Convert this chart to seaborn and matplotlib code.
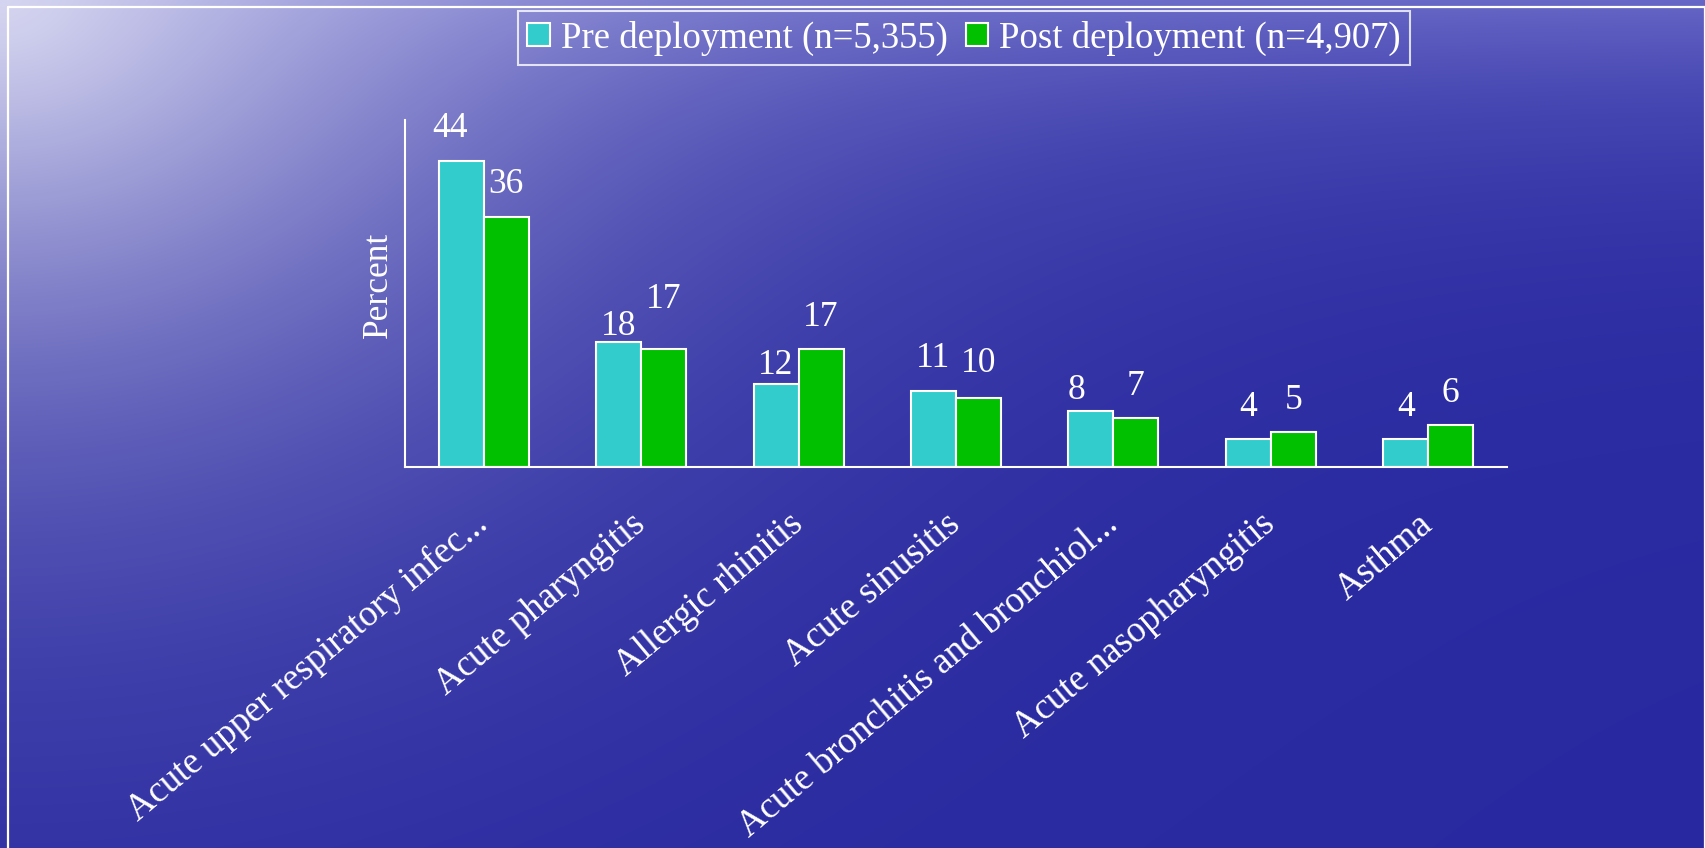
import numpy as np
import pandas as pd
import matplotlib
matplotlib.use("Agg")
import matplotlib.pyplot as plt
from matplotlib.lines import Line2D
import seaborn as sns

# ---------------- data ----------------
categories = [
    "Acute upper respiratory infec...",
    "Acute pharyngitis",
    "Allergic rhinitis",
    "Acute sinusitis",
    "Acute bronchitis and bronchiol...",
    "Acute nasopharyngitis",
    "Asthma",
]
pre_values = [44, 18, 12, 11, 8, 4, 4]
post_values = [36, 17, 17, 10, 7, 5, 6]
series_names = ["Pre deployment (n=5,355)", "Post deployment (n=4,907)"]
y_label = "Percent"

# label placement tweaks (pixels): vertical gap above bar, horizontal shift
pre_gap = [24, 7, 10, 24, 12, 23, 23]
post_gap = [24, 41, 23, 25, 23, 23, 23]
pre_dx = [-11, 0, 0, 0, -14, 0, 0]
post_dx = [0, 0, 0, 0, 0, 0, 0]

colors = ["#33CCCC", "#00C000"]

# ---------------- style ----------------
sns.set_style("white")
plt.rcParams["font.family"] = ["Liberation Serif", "DejaVu Serif"]
FS = 26.5
PX = 72 / 100.0  # points per pixel at dpi 100

W, H = 1706, 848
fig = plt.figure(figsize=(W / 100, H / 100), dpi=100)

# background gradient
yy, xx = np.mgrid[0:H, 0:W].astype(float)
dark = np.array([40, 40, 160]) / 255.0
light = np.array([102, 102, 198]) / 255.0
t = np.exp(-yy / 140.0)[..., None]
base = dark + (light - dark) * t
glow_col = np.array([228, 228, 246]) / 255.0
d = np.sqrt((xx * 0.85) ** 2 + (yy * 1.05) ** 2)
w = (0.88 * np.exp(-(d / 420.0) ** 1.3))[..., None]
img = base * (1 - w) + glow_col * w
bg = fig.add_axes([0, 0, 1, 1], zorder=-10)
bg.imshow(np.clip(img, 0, 1), aspect="auto", extent=[0, W, H, 0])
bg.set_axis_off()

# frame lines
lw_frame = 1.6
fig.add_artist(Line2D([8 / W, 8 / W], [0, 1 - 7 / H], transform=fig.transFigure, color="white", lw=lw_frame))
fig.add_artist(Line2D([8 / W, 1705 / W], [1 - 7 / H, 1 - 7 / H], transform=fig.transFigure, color="white", lw=lw_frame))
fig.add_artist(Line2D([1705 / W, 1705 / W], [0, 1 - 7 / H], transform=fig.transFigure, color="white", lw=lw_frame))

# main axes
left, right, bottom, top = 405, 1507, 467, 119.5
ax = fig.add_axes([left / W, 1 - bottom / H, (right - left) / W, (bottom - top) / H])
ax.set_facecolor("none")

df = pd.DataFrame({
    "category": categories * 2,
    "value": pre_values + post_values,
    "series": [series_names[0]] * len(categories) + [series_names[1]] * len(categories),
})

sns.barplot(data=df, x="category", y="value", hue="series", palette=colors,
            saturation=1, width=0.572, edgecolor="white", linewidth=1.5, ax=ax)

ax.set_xlim(-0.5, len(categories) - 0.5)
ax.set_ylim(0, 50)
ax.set_yticks([])
ax.set_xlabel("")
ax.set_ylabel(y_label, fontsize=25.5, color="white")
ax.yaxis.set_label_coords(-0.009, 0.524)

for s in ["top", "right"]:
    ax.spines[s].set_visible(False)
for s in ["left", "bottom"]:
    ax.spines[s].set_color("white")
    ax.spines[s].set_linewidth(1.5)

ax.set_xticks(range(len(categories)))
ax.set_xticklabels(categories, rotation=40, ha="right", va="center",
                   rotation_mode="anchor", fontsize=FS, color="white")
ax.tick_params(axis="x", which="major", length=0, pad=53 * PX)
ax.set_xticks(np.arange(-0.5, len(categories), 1.0), minor=True)
ax.tick_params(axis="x", which="minor", length=10 * PX, width=1.5,
               color="white", direction="out")

# value labels
gaps = [pre_gap, post_gap]
dxs = [pre_dx, post_dx]
vals = [pre_values, post_values]
for k, cont in enumerate(ax.containers):
    for i, rect in enumerate(cont):
        xc = rect.get_x() + rect.get_width() / 2
        ax.annotate(str(vals[k][i]), (xc, rect.get_height()),
                    xytext=(dxs[k][i] * PX, gaps[k][i] * PX), textcoords="offset points",
                    ha="center", va="baseline", fontsize=25.5, color="white")

# legend
handles, labels = ax.get_legend_handles_labels()
if ax.get_legend() is not None:
    ax.get_legend().remove()
leg = fig.legend(handles, labels, loc="center", bbox_to_anchor=(964 / W, 1 - 38 / H),
                 bbox_transform=fig.transFigure, ncol=2, fontsize=26.5, frameon=True,
                 fancybox=False, handlelength=0.6, handleheight=0.55, handletextpad=0.3,
                 columnspacing=0.5, borderpad=0.25, borderaxespad=0)
leg.get_frame().set_facecolor("none")
leg.get_frame().set_edgecolor("white")
leg.get_frame().set_linewidth(1.5)
for txt in leg.get_texts():
    txt.set_color("white")
for h in leg.legend_handles:
    h.set_edgecolor("white")
    h.set_linewidth(1.5)

fig.savefig("out.png", dpi=100)
